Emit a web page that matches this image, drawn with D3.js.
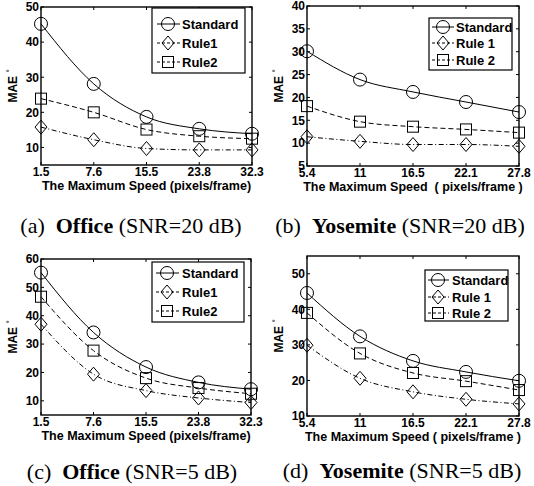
<!DOCTYPE html>
<html>
<head>
<meta charset="utf-8">
<script src="https://cdn.jsdelivr.net/npm/d3@7"></script>
<style>
  body { margin: 0; background: #fff; }
  svg { display: block; }
  .tick-label, .axis-title, .legend-text { font-family: "Liberation Sans", Arial, Helvetica, sans-serif; font-weight: bold; fill: #000; }
  .caption { font-family: "Liberation Serif", "Times New Roman", serif; fill: #000; }
</style>
</head>
<body>
<svg id="chart" width="534" height="486"></svg>
<script>
"use strict";

// x categories
const officeSpeeds = ["1.5", "7.6", "15.5", "23.8", "32.3"];
const yosemiteSpeeds = ["5.4", "11", "16.5", "22.1", "27.8"];

// y ticks
const ticksA = [10, 20, 30, 40, 50];
const ticksB = [5, 10, 15, 20, 25, 30, 35, 40];
const ticksC = [10, 20, 30, 40, 50, 60];
const ticksD = [10, 20, 30, 40, 50];

// legend names
const officeNames = ["Standard", "Rule1", "Rule2"];
const yosemiteNames = ["Standard", "Rule 1", "Rule 2"];

// MAE values
const officeSnr20Standard = [45.2, 28.1, 18.7, 15.3, 13.9];
const officeSnr20Rule1 = [15.8, 12.2, 9.7, 9.3, 9.3];
const officeSnr20Rule2 = [23.9, 20.0, 15.1, 13.2, 12.5];

const yosemiteSnr20Standard = [30.1, 23.9, 21.2, 19.0, 16.8];
const yosemiteSnr20Rule1 = [11.4, 10.4, 9.7, 9.7, 9.3];
const yosemiteSnr20Rule2 = [18.1, 14.7, 13.6, 13.0, 12.3];

const officeSnr5Standard = [55.2, 34.1, 21.9, 16.5, 14.1];
const officeSnr5Rule1 = [37.0, 19.4, 13.6, 11.0, 9.4];
const officeSnr5Rule2 = [46.7, 27.7, 18.0, 14.5, 12.5];

const yosemiteSnr5Standard = [44.6, 32.4, 25.5, 22.4, 19.9];
const yosemiteSnr5Rule1 = [29.9, 20.6, 16.8, 14.7, 13.4];
const yosemiteSnr5Rule2 = [39.0, 27.6, 22.1, 19.8, 17.3];

const markers = ["circle", "diamond", "square"];
const dashes = [null, "5,2.5,1,2.5", "5,3"];

const panels = [
  {
    tag: "(a)", scene: "Office", snr: "(SNR=20 dB)",
    speeds: officeSpeeds, names: officeNames, yDomain: [5, 50], yTicks: ticksA,
    values: [officeSnr20Standard, officeSnr20Rule1, officeSnr20Rule2],
    xLabel: "The Maximum Speed (pixels/frame)",
    box: { l: 41, r: 252, t: 7, b: 165 },
    legend: { x0: 152, x1: 245, y0: 8, y1: 73, rows: [24, 43, 62], line: [157, 180], mark: 168, text: 182 },
    caption: { x: 131, y: 233 }
  },
  {
    tag: "(b)", scene: "Yosemite", snr: "(SNR=20 dB)",
    speeds: yosemiteSpeeds, names: yosemiteNames, yDomain: [5, 40], yTicks: ticksB,
    values: [yosemiteSnr20Standard, yosemiteSnr20Rule1, yosemiteSnr20Rule2],
    xLabel: "The Maximum Speed  ( pixels/frame )",
    box: { l: 307, r: 519, t: 6, b: 166 },
    legend: { x0: 429, x1: 512, y0: 18, y1: 70, rows: [27, 43, 60], line: [432, 454], mark: 443, text: 456 },
    caption: { x: 400, y: 233 }
  },
  {
    tag: "(c)", scene: "Office", snr: "(SNR=5 dB)",
    speeds: officeSpeeds, names: officeNames, yDomain: [5, 60], yTicks: ticksC,
    values: [officeSnr5Standard, officeSnr5Rule1, officeSnr5Rule2],
    xLabel: "The Maximum Speed (pixels/frame)",
    box: { l: 41, r: 251, t: 259, b: 415 },
    legend: { x0: 152, x1: 244, y0: 262, y1: 322, rows: [273, 292, 311], line: [156, 179], mark: 167, text: 182 },
    caption: { x: 132, y: 479 }
  },
  {
    tag: "(d)", scene: "Yosemite", snr: "(SNR=5 dB)",
    speeds: yosemiteSpeeds, names: yosemiteNames, yDomain: [10, 55], yTicks: ticksD,
    values: [yosemiteSnr5Standard, yosemiteSnr5Rule1, yosemiteSnr5Rule2],
    xLabel: "The Maximum Speed ( pixels/frame )",
    box: { l: 307, r: 519, t: 256, b: 416 },
    legend: { x0: 425, x1: 508, y0: 270, y1: 321, rows: [280, 297, 313], line: [428, 449], mark: 438, text: 452 },
    caption: { x: 402, y: 478 }
  }
];

const svg = d3.select("#chart");

function drawMarker(g, type, x, y)
{
  if (type === "circle")
  {
    g.append("circle").attr("cx", x).attr("cy", y).attr("r", 6.5);
  }
  else if (type === "diamond")
  {
    g.append("path").attr("d", `M${x},${y - 7}L${x + 6},${y}L${x},${y + 7}L${x - 6},${y}Z`);
  }
  else
  {
    g.append("rect").attr("x", x - 5.5).attr("y", y - 5.5).attr("width", 11).attr("height", 11);
  }
}

function drawPanel(p)
{
  let b = p.box;
  let x = d3.scalePoint().domain(p.speeds).range([b.l, b.r]);
  let y = d3.scaleLinear().domain(p.yDomain).range([b.b, b.t]);
  let g = svg.append("g");

  // inner ticks, mirrored on all four sides
  let ticks = g.append("g").attr("stroke", "#000").attr("stroke-width", 1);
  p.speeds.forEach(s => {
    ticks.append("line").attr("x1", x(s)).attr("x2", x(s)).attr("y1", b.b).attr("y2", b.b - 3);
    ticks.append("line").attr("x1", x(s)).attr("x2", x(s)).attr("y1", b.t).attr("y2", b.t + 3);
  });
  p.yTicks.forEach(v => {
    ticks.append("line").attr("x1", b.l).attr("x2", b.l + 3).attr("y1", y(v)).attr("y2", y(v));
    ticks.append("line").attr("x1", b.r).attr("x2", b.r - 3).attr("y1", y(v)).attr("y2", y(v));
  });

  // box
  g.append("rect")
    .attr("x", b.l).attr("y", b.t)
    .attr("width", b.r - b.l).attr("height", b.b - b.t)
    .attr("fill", "none").attr("stroke", "#000").attr("stroke-width", 1.4);

  // tick labels
  g.selectAll(".ytl").data(p.yTicks).enter()
    .append("text").attr("class", "tick-label")
    .attr("x", b.l - 2).attr("y", v => y(v)).attr("dy", "0.36em")
    .attr("text-anchor", "end").attr("font-size", 12)
    .text(v => v);
  g.selectAll(".xtl").data(p.speeds).enter()
    .append("text").attr("class", "tick-label")
    .attr("x", s => x(s)).attr("y", b.b + 11)
    .attr("text-anchor", "middle").attr("font-size", 12)
    .text(s => s);

  // axis titles
  g.append("text").attr("class", "axis-title")
    .attr("x", (b.l + b.r) / 2).attr("y", b.b + 24.5)
    .attr("text-anchor", "middle").attr("font-size", 12.5)
    .style("white-space", "pre")
    .text(p.xLabel);
  let yl = g.append("text").attr("class", "axis-title")
    .attr("transform", `translate(${b.l - 24},${(b.t + b.b) / 2}) rotate(-90)`)
    .attr("text-anchor", "middle").attr("font-size", 12);
  yl.append("tspan").text("MAE ");
  yl.append("tspan").attr("font-size", 8).attr("font-weight", "normal").attr("dy", -5).text("\u00b0");

  // series
  let line = d3.line().x((d, i) => x(p.speeds[i])).y(d => y(d)).curve(d3.curveMonotoneX);
  p.values.forEach((vals, k) => {
    g.append("path").datum(vals)
      .attr("d", line)
      .attr("fill", "none").attr("stroke", "#000").attr("stroke-width", 1)
      .attr("stroke-dasharray", dashes[k]);
    let mg = g.append("g").attr("fill", "none").attr("stroke", "#000").attr("stroke-width", 1);
    vals.forEach((v, i) => drawMarker(mg, markers[k], x(p.speeds[i]), y(v)));
  });

  // legend
  let L = p.legend;
  g.append("rect")
    .attr("x", L.x0).attr("y", L.y0)
    .attr("width", L.x1 - L.x0).attr("height", L.y1 - L.y0)
    .attr("fill", "#fff").attr("stroke", "#000").attr("stroke-width", 1.2);
  p.names.forEach((name, k) => {
    let ry = L.rows[k];
    g.append("line")
      .attr("x1", L.line[0]).attr("x2", L.line[1]).attr("y1", ry).attr("y2", ry)
      .attr("stroke", "#000").attr("stroke-width", 1)
      .attr("stroke-dasharray", dashes[k] ? "3,2" : null);
    let mg = g.append("g").attr("fill", "none").attr("stroke", "#000").attr("stroke-width", 1);
    drawMarker(mg, markers[k], L.mark, ry);
    g.append("text").attr("class", "legend-text")
      .attr("x", L.text).attr("y", ry).attr("dy", "0.36em")
      .attr("font-size", 13)
      .text(name);
  });

  // caption
  let c = svg.append("text").attr("class", "caption")
    .attr("x", p.caption.x).attr("y", p.caption.y)
    .attr("text-anchor", "middle").attr("font-size", 22)
    .style("white-space", "pre");
  c.append("tspan").text(p.tag + "  ");
  c.append("tspan").attr("font-weight", "bold").text(p.scene);
  c.append("tspan").text(" " + p.snr);
}

panels.forEach(drawPanel);
</script>
</body>
</html>
